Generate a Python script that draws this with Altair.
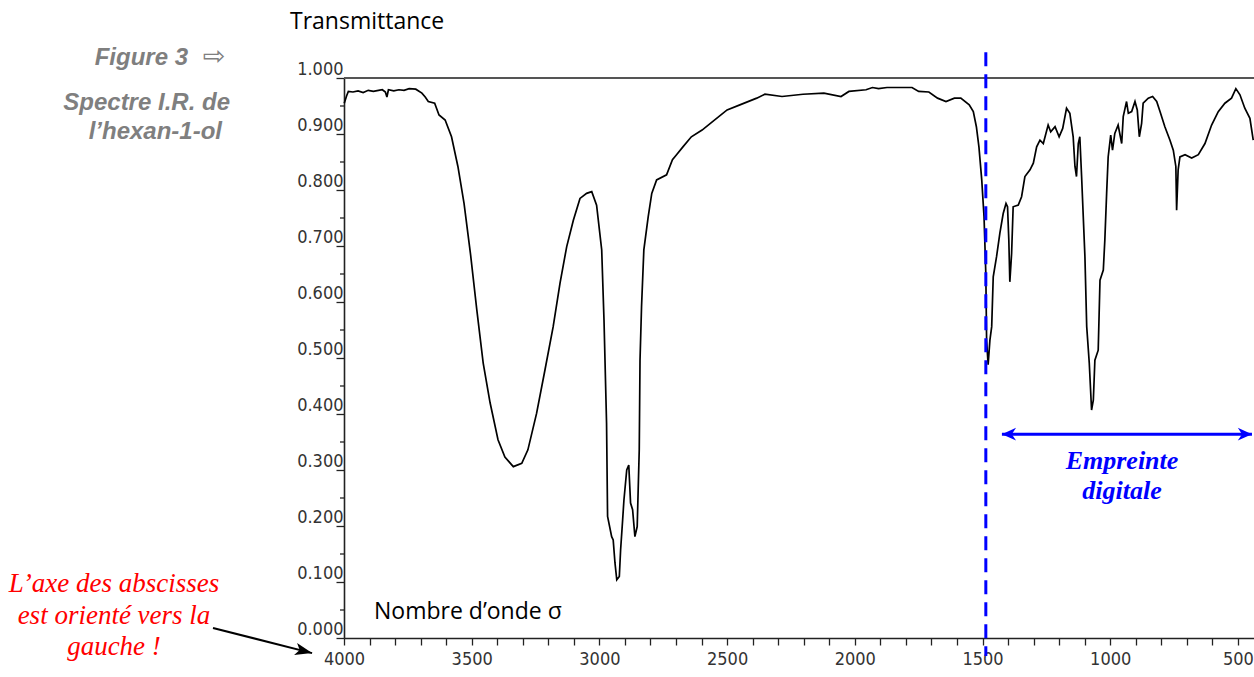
import altair as alt
import pandas as pd

# ---- spectrum (wavenumber in cm-1, transmittance) ----
wavenumber = [
    3999, 3990, 3983, 3965, 3945, 3925, 3905, 3885, 3865, 3850, 3838, 3832, 3826, 3805, 3785, 3765,
    3745, 3719, 3695, 3682, 3670, 3645, 3628, 3604, 3579, 3554, 3530, 3505, 3480, 3455, 3428, 3397,
    3370, 3337, 3304, 3280, 3246, 3213, 3181, 3154, 3128, 3102, 3076, 3050, 3030, 3011, 2991, 2982,
    2972, 2968, 2952, 2946, 2939, 2932, 2922, 2917, 2909, 2904, 2893, 2885, 2878, 2870, 2861, 2852,
    2844, 2841, 2835, 2826, 2809, 2795, 2776, 2737, 2714, 2698, 2673, 2640, 2598, 2557, 2500, 2450,
    2384, 2352, 2285, 2203, 2121, 2054, 2023, 1956, 1931, 1907, 1874, 1776, 1750, 1710, 1676, 1643,
    1610, 1585, 1552, 1536, 1524, 1514, 1503, 1494, 1487, 1484, 1478, 1471, 1464, 1458, 1445, 1432,
    1419, 1408, 1402, 1397, 1393, 1386, 1380, 1360, 1347, 1334, 1314, 1301, 1288, 1275, 1262, 1243,
    1233, 1216, 1200, 1186, 1171, 1158, 1145, 1138, 1132, 1125, 1119, 1112, 1099, 1092, 1082, 1073,
    1066, 1060, 1047, 1040, 1027, 1021, 1014, 1008, 998, 991, 982, 969, 955, 949, 936, 929,
    916, 903, 894, 886, 877, 871, 851, 834, 818, 805, 786, 766, 753, 743, 740, 734,
    727, 707, 681, 655, 629, 603, 577, 551, 525, 508, 492, 473, 453, 440,
]
transmittance = [
    0.955, 0.968, 0.976, 0.975, 0.977, 0.974, 0.978, 0.976, 0.978, 0.979, 0.975, 0.966, 0.979, 0.977, 0.979, 0.978,
    0.981, 0.980, 0.973, 0.966, 0.958, 0.955, 0.934, 0.925, 0.895, 0.842, 0.776, 0.687, 0.586, 0.491, 0.420, 0.354,
    0.323, 0.306, 0.312, 0.336, 0.401, 0.479, 0.556, 0.634, 0.699, 0.746, 0.785, 0.794, 0.797, 0.773, 0.693, 0.568,
    0.384, 0.217, 0.181, 0.175, 0.134, 0.104, 0.110, 0.157, 0.211, 0.246, 0.300, 0.309, 0.241, 0.229, 0.181, 0.199,
    0.336, 0.496, 0.592, 0.693, 0.752, 0.794, 0.818, 0.827, 0.854, 0.863, 0.877, 0.895, 0.907, 0.922, 0.943, 0.952,
    0.964, 0.971, 0.967, 0.971, 0.973, 0.967, 0.976, 0.979, 0.983, 0.981, 0.983, 0.983, 0.976, 0.975, 0.964, 0.958,
    0.964, 0.964, 0.952, 0.940, 0.913, 0.877, 0.818, 0.752, 0.650, 0.532, 0.488, 0.532, 0.556, 0.645, 0.681, 0.723,
    0.758, 0.776, 0.770, 0.711, 0.636, 0.687, 0.770, 0.773, 0.788, 0.824, 0.836, 0.848, 0.877, 0.889, 0.883, 0.916,
    0.904, 0.913, 0.895, 0.910, 0.946, 0.937, 0.895, 0.842, 0.824, 0.883, 0.895, 0.824, 0.681, 0.556, 0.491, 0.407,
    0.425, 0.496, 0.514, 0.639, 0.657, 0.711, 0.794, 0.859, 0.898, 0.871, 0.901, 0.916, 0.883, 0.931, 0.958, 0.937,
    0.940, 0.958, 0.943, 0.895, 0.919, 0.955, 0.964, 0.967, 0.958, 0.940, 0.913, 0.889, 0.871, 0.842, 0.764, 0.836,
    0.859, 0.863, 0.857, 0.863, 0.883, 0.916, 0.940, 0.955, 0.964, 0.981, 0.970, 0.946, 0.928, 0.889,
]

# ---- axes ----
x_tick_values = list(range(4000, 499, -100))
y_tick_values = [round(i * 0.1, 1) for i in range(11)]
y_minor_values = [round(0.05 + i * 0.1, 2) for i in range(10)]
X_DOMAIN = [437, 4000]

# ---- annotations (data coordinates) ----
fingerprint_limit = [1487]
dashed_span = [1.046, -0.032]
fp_arrow_x = [1424, 445]
fp_arrow_y = [0.364]
note_arrow_x = [4513, 4125]
note_arrow_y = [0.018, -0.027]

W, H = 910, 560
LABEL_FONT = "Liberation Sans Narrow, DejaVu Sans Condensed, Liberation Sans"

xscale = alt.Scale(domain=X_DOMAIN, reverse=True, nice=False, zero=False)
yscale = alt.Scale(domain=[0, 1], nice=False, zero=False)

df = pd.DataFrame({"wn": wavenumber, "T": transmittance, "i": range(len(wavenumber))})

x_axis = alt.Axis(
    values=x_tick_values,
    labelExpr="datum.value % 500 === 0 ? format(datum.value, 'd') : ''",
    title=None, grid=False, tickSize=7, tickColor="#222", tickWidth=1.3,
    domainColor="#222", domainWidth=1.6, labelFont=LABEL_FONT, labelFontSize=18,
    labelColor="#333", labelPadding=5, labelFlush=False, labelOverlap=False,
)
y_axis = alt.Axis(
    values=y_tick_values, format=".3f", title=None, grid=False, tickSize=8,
    tickColor="#222", tickWidth=1.3, domainColor="#222", domainWidth=1.6,
    labelFont=LABEL_FONT, labelFontSize=18, labelColor="#333", labelBaseline="bottom",
    labelPadding=-7, labelFlush=False, labelOverlap=False,
)


def X(field):
    return alt.X(field, scale=xscale, axis=x_axis)


def Y(field):
    return alt.Y(field, scale=yscale, axis=y_axis)


spectrum = alt.Chart(df).mark_line(color="black", strokeWidth=1.7).encode(
    x=X("wn:Q"), y=Y("T:Q"), order="i:Q",
)

top_line = alt.Chart(pd.DataFrame({"T": [1.0]})).mark_rule(color="#555", strokeWidth=2).encode(
    y=Y("T:Q")
)

y_minor = alt.Chart(pd.DataFrame({"T": y_minor_values})).mark_rule(color="#222", strokeWidth=1.3).encode(
    y=Y("T:Q"), x=alt.value(-4), x2=alt.value(0)
)

dashed = alt.Chart(pd.DataFrame({"wn": fingerprint_limit, "y1": [dashed_span[0]], "y2": [dashed_span[1]]})).mark_rule(
    color="#0000FF", strokeWidth=3, strokeDash=[14, 8], clip=False
).encode(x=X("wn:Q"), y=Y("y1:Q"), y2="y2:Q")

fp_line = alt.Chart(pd.DataFrame({"a": [fp_arrow_x[0]], "b": [fp_arrow_x[1]], "T": fp_arrow_y})).mark_rule(
    color="#0000FF", strokeWidth=3
).encode(x=X("a:Q"), x2="b:Q", y=Y("T:Q"))

HEAD = "M0,0L-1,-0.45L-0.7,0L-1,0.45Z"
fp_heads = alt.Chart(pd.DataFrame({"wn": fp_arrow_x, "T": fp_arrow_y * 2, "ang": [180, 0]})).mark_point(
    shape=HEAD, filled=True, size=800, color="#0000FF", opacity=1, strokeWidth=0, clip=False
).encode(x=X("wn:Q"), y=Y("T:Q"), angle=alt.Angle("ang:Q", scale=None))

note_line = alt.Chart(pd.DataFrame({"a": [note_arrow_x[0]], "b": [note_arrow_x[1]],
                                    "c": [note_arrow_y[0]], "d": [note_arrow_y[1]]})).mark_rule(
    color="black", strokeWidth=2, clip=False
).encode(x=X("a:Q"), x2="b:Q", y=Y("c:Q"), y2="d:Q")

NOTE_HEAD = "M0,0L-1,-0.36L-0.75,0L-1,0.36Z"
note_head = alt.Chart(pd.DataFrame({"wn": [note_arrow_x[1]], "T": [note_arrow_y[1]]})).mark_point(
    shape=NOTE_HEAD, filled=True, size=1156, color="black", opacity=1, strokeWidth=0, angle=14, clip=False
).encode(x=X("wn:Q"), y=Y("T:Q"))


def label(text, x, y, **kw):
    return alt.Chart(pd.DataFrame({"t": [text]})).mark_text(**kw).encode(
        x=alt.value(x), y=alt.value(y), text="t:N"
    )


GRAY = "#7f7f7f"
texts = [
    label("Transmittance", -54, -56, align="left", baseline="middle", font="Open Sans", fontSize=23, color="black"),
    label("Nombre d’onde σ", 30, 534, align="left", baseline="middle", font="Open Sans", fontSize=23, color="black"),
    label("Figure 3", -156, -20, align="right", baseline="middle", font="Liberation Sans", fontSize=24,
          fontStyle="italic", fontWeight="bold", color=GRAY),
    label("⇨", -130, -21, align="center", baseline="middle", font="DejaVu Sans", fontSize=27, color=GRAY),
    label("Spectre I.R. de", -114, 25, align="right", baseline="middle", font="Liberation Sans", fontSize=24,
          fontStyle="italic", fontWeight="bold", color=GRAY),
    label("l’hexan-1-ol", -122, 54, align="right", baseline="middle", font="Liberation Sans", fontSize=24,
          fontStyle="italic", fontWeight="bold", color=GRAY),
    label("L’axe des abscisses", -230, 514, align="center", baseline="alphabetic", font="Liberation Serif",
          fontSize=27, fontStyle="italic", color="#FF0000"),
    label("est orienté vers la", -230, 546, align="center", baseline="alphabetic", font="Liberation Serif",
          fontSize=27, fontStyle="italic", color="#FF0000"),
    label("gauche !", -230, 577, align="center", baseline="alphabetic", font="Liberation Serif",
          fontSize=27, fontStyle="italic", color="#FF0000"),
    label("Empreinte", 778, 391, align="center", baseline="alphabetic", font="Liberation Serif",
          fontSize=26, fontStyle="italic", fontWeight="bold", color="#0000FF"),
    label("digitale", 778, 421, align="center", baseline="alphabetic", font="Liberation Serif",
          fontSize=26, fontStyle="italic", fontWeight="bold", color="#0000FF"),
]

chart = alt.layer(
    top_line, y_minor, spectrum, dashed, fp_line, fp_heads, note_line, note_head, *texts
).properties(
    width=W, height=H,
    autosize=alt.AutoSizeParams(type="none"),
    padding={"left": 344, "top": 78, "right": 0, "bottom": 39},
    background="white",
).configure_view(stroke=None)

chart.save("out.html", embed_options={"renderer": "svg", "actions": False})
